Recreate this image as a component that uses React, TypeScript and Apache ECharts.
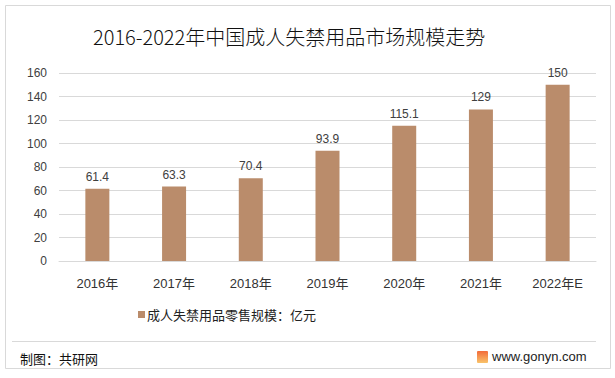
import React, { useEffect, useRef } from "react";
import * as echarts from "echarts";

const title = "2016-2022年中国成人失禁用品市场规模走势";
const categories = ["2016年", "2017年", "2018年", "2019年", "2020年", "2021年", "2022年E"];
const seriesName = "成人失禁用品零售规模：亿元";
const values = [61.4, 63.3, 70.4, 93.9, 115.1, 129, 150];
const sourceText = "制图：共研网";
const siteText = "www.gonyn.com";

const FONT = "'Liberation Sans', 'Noto Sans CJK SC', sans-serif";

export default function App() {
  const ref = useRef<HTMLDivElement>(null);
  useEffect(() => {
    if (!ref.current) return;
    const chart = echarts.init(ref.current, null, { renderer: "svg" });
    chart.setOption({
      animation: false,
      backgroundColor: "#ffffff",
      textStyle: { fontFamily: FONT },
      title: {
        text: title,
        left: 88,
        top: 21,
        textStyle: { fontFamily: "'Noto Sans CJK SC', sans-serif", fontSize: 20, fontWeight: 300, color: "#111" },
      },
      legend: {
        left: 133,
        top: 303,
        itemWidth: 7,
        itemHeight: 7,
        itemGap: 10,
        icon: "rect",
        textStyle: { fontFamily: "'Noto Sans CJK SC', sans-serif", fontSize: 13, color: "#222", padding: [0, 0, 0, -3] },
        data: [seriesName],
      },
      grid: { left: 59, right: 19, top: 73, bottom: 117, containLabel: false },
      xAxis: {
        type: "category",
        data: categories,
        axisLine: { lineStyle: { color: "#d9d9d9" } },
        axisTick: { show: false },
        axisLabel: { color: "#333", fontSize: 13, margin: 16, fontFamily: FONT },
      },
      yAxis: {
        type: "value",
        min: 0,
        max: 160,
        interval: 20,
        axisLine: { show: false },
        axisTick: { show: false },
        axisLabel: { color: "#404040", fontSize: 12, margin: 12, fontFamily: FONT },
        splitLine: { lineStyle: { color: "#d9d9d9" } },
      },
      series: [
        {
          name: seriesName,
          type: "bar",
          data: values,
          barWidth: 24,
          itemStyle: { color: "#BA8C6B" },
          label: { show: true, position: "top", distance: 6, color: "#404040", fontSize: 12, fontFamily: FONT },
        },
      ],
      graphic: [
        {
          type: "rect",
          shape: { x: 5.5, y: 5.5, width: 605, height: 363 },
          style: { fill: "none", stroke: "#d9d9d9", lineWidth: 1 },
          z: -1,
        },
        {
          type: "line",
          shape: { x1: 12, y1: 341.5, x2: 596, y2: 341.5 },
          style: { stroke: "#d9d9d9", lineWidth: 1 },
        },
        {
          type: "text",
          left: 20,
          top: 352,
          style: { text: sourceText, fontSize: 13, fill: "#111", fontFamily: "'Noto Sans CJK SC', sans-serif" },
        },
        {
          type: "rect",
          shape: { x: 477, y: 351, width: 11, height: 12, r: 1 },
          style: {
            fill: new echarts.graphic.LinearGradient(0, 0, 0, 1, [
              { offset: 0, color: "#F26B3A" },
              { offset: 1, color: "#F9C36A" },
            ]),
          },
        },
        {
          type: "text",
          left: 492,
          top: 350,
          style: { text: siteText, fontSize: 13, fill: "#222", fontFamily: FONT },
        },
      ],
    });
    return () => chart.dispose();
  }, []);
  return (
    <div
      ref={ref}
      style={{ position: "absolute", left: 0, top: 0, width: 615, height: 378 }}
    />
  );
}
